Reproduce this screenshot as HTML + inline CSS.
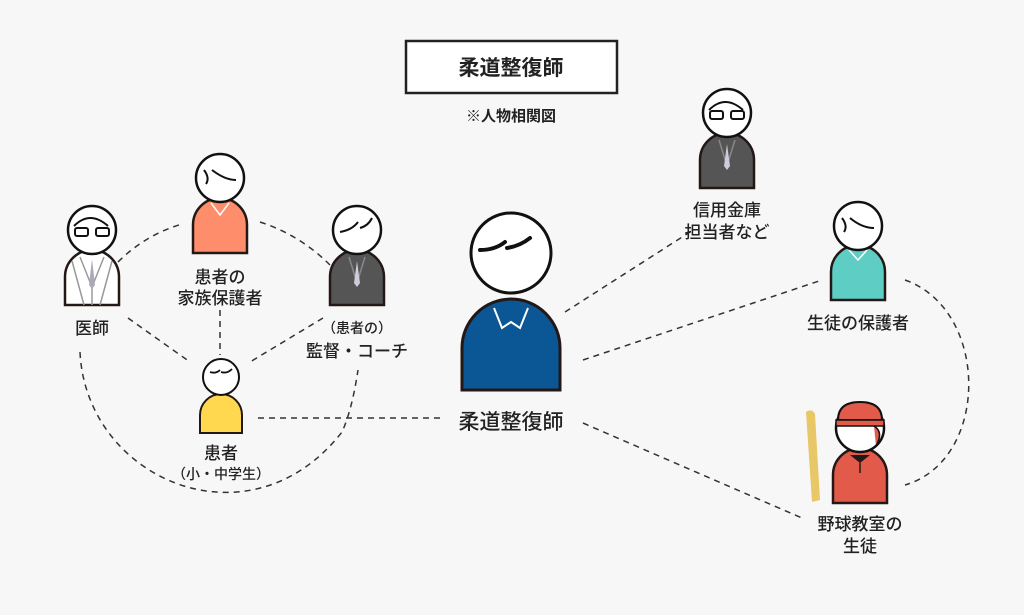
<!DOCTYPE html>
<html><head><meta charset="utf-8"><style>
html,body{margin:0;padding:0;background:#f7f7f7;}
svg{display:block}
text{font-family:"Liberation Sans","Noto Sans CJK JP",sans-serif;fill:#222;text-anchor:middle;font-weight:500}
</style></head><body>
<svg width="1024" height="615" viewBox="0 0 1024 615" xmlns="http://www.w3.org/2000/svg">
<rect width="1024" height="615" fill="#f7f7f7"/>
<defs>
<g id="p">
 <path d="M-27,48 L-27,20 A27,27 0 0 1 27,20 L27,48 Z" stroke="#231815" stroke-width="2.5"/>
</g>
</defs>
<g fill="none" stroke="#333" stroke-width="1.5" stroke-dasharray="6,5">
<path d="M118,262 Q145,235 182,224"/>
<path d="M260,222 Q300,235 330,265"/>
<path d="M128,318 L190,362"/>
<path d="M220,310 L220,355"/>
<path d="M323,318 L250,362"/>
<path d="M258,418 L440,418"/>
<path d="M80,352 C86,480 250,550 342,432 Q352,410 358,370"/>
<path d="M565,312 L690,232"/>
<path d="M583,360 L822,280"/>
<path d="M583,423 L802,518"/>
<path d="M905,280 C990,310 990,460 905,485"/>
</g>
<rect x="406" y="41" width="211" height="52" fill="#fff" stroke="#222" stroke-width="2.5"/>
<text x="511" y="75" font-size="21" style="font-weight:bold">柔道整復師</text>
<text x="511" y="121" font-size="15" style="font-weight:bold">※人物相関図</text>

<path d="M462,390 L462,348 A49,49 0 0 1 560,348 L560,390 Z" fill="#0b5694" stroke="#231815" stroke-width="3"/>
<path d="M494,308 L502,328 L511,322 L520,328 L528,308" fill="none" stroke="#fff" stroke-width="2"/>
<circle cx="511" cy="253" r="40" fill="#fff" stroke="#111" stroke-width="3"/>
<path d="M480,250 Q495,250 505,242 M507,248 Q520,246 530,238" stroke="#111" stroke-width="4" fill="none" stroke-linecap="round"/>
<text x="511" y="429" font-size="21">柔道整復師</text>

<g transform="translate(92,257)"><use href="#p" fill="#fff"/>
<path d="M-12,0 L0,30 L12,0 M-20,4 L-8,48 M20,4 L8,48 M0,18 L0,48" stroke="#999" fill="none" stroke-width="1.5"/>
<path d="M0,2 L-3,28 L0,32 L3,28 Z" fill="#aab"/></g>
<circle cx="92" cy="230" r="24" fill="#fff" stroke="#111" stroke-width="2.5"/>
<path d="M74,226 Q90,210 108,226" stroke="#111" stroke-width="2" fill="none"/>
<rect x="75" y="228" width="13" height="8" rx="2" fill="none" stroke="#111" stroke-width="2"/>
<rect x="96" y="228" width="13" height="8" rx="2" fill="none" stroke="#111" stroke-width="2"/>
<text x="92" y="334" font-size="17">医師</text>

<g transform="translate(220,205)"><use href="#p" fill="#fe8d6b"/>
<path d="M-9,-2 L0,10 L9,-2" stroke="#fff" stroke-width="1.5" fill="none"/></g>
<circle cx="220" cy="178" r="24" fill="#fff" stroke="#111" stroke-width="2.5"/>
<path d="M204,170 Q210,178 206,184 M212,170 Q225,180 236,180" stroke="#111" stroke-width="2" fill="none"/>
<text x="220" y="283" font-size="17">患者の</text>
<text x="220" y="304" font-size="17">家族保護者</text>

<g transform="translate(357,257)"><use href="#p" fill="#555"/>
<path d="M-8,0 L0,26 L8,0" stroke="#888" fill="none" stroke-width="1.5"/>
<path d="M0,4 L-3,26 L0,30 L3,26 Z" fill="#ccd"/></g>
<circle cx="357" cy="230" r="24" fill="#fff" stroke="#111" stroke-width="2.5"/>
<path d="M340,232 Q352,230 358,222 M360,228 Q368,226 372,218" stroke="#111" stroke-width="2" fill="none"/>
<text x="357" y="333" font-size="14">（患者の）</text>
<text x="357" y="357" font-size="17">監督・コーチ</text>

<path d="M200,433 L200,415 A21,21 0 0 1 242,415 L242,433 Z" fill="#ffd84f" stroke="#231815" stroke-width="2"/>
<circle cx="221" cy="377" r="18" fill="#fff" stroke="#111" stroke-width="2"/>
<path d="M210,372 Q216,374 220,370 M221,372 Q227,374 232,369" stroke="#111" stroke-width="1.8" fill="none"/>
<text x="221" y="459" font-size="17">患者</text>
<text x="221" y="479" font-size="14">（小・中学生）</text>

<g transform="translate(727,140)"><use href="#p" fill="#555"/>
<path d="M-8,0 L0,26 L8,0" stroke="#888" fill="none" stroke-width="1.5"/>
<path d="M0,4 L-3,26 L0,30 L3,26 Z" fill="#ccd"/></g>
<circle cx="727" cy="113" r="24" fill="#fff" stroke="#111" stroke-width="2.5"/>
<path d="M709,110 Q725,94 743,110" stroke="#111" stroke-width="2" fill="none"/>
<rect x="710" y="111" width="13" height="8" rx="2" fill="none" stroke="#111" stroke-width="2"/>
<rect x="731" y="111" width="13" height="8" rx="2" fill="none" stroke="#111" stroke-width="2"/>
<text x="727" y="216" font-size="17">信用金庫</text>
<text x="727" y="238" font-size="17">担当者など</text>

<g transform="translate(858,252)"><use href="#p" fill="#5ecdc4"/>
<path d="M-9,-2 L0,8 L9,-2" stroke="#fff" stroke-width="1.5" fill="none"/></g>
<circle cx="858" cy="226" r="24" fill="#fff" stroke="#111" stroke-width="2.5"/>
<path d="M842,218 Q848,226 844,232 M850,218 Q862,228 874,228" stroke="#111" stroke-width="2" fill="none"/>
<text x="858" y="329" font-size="17">生徒の保護者</text>

<path d="M806,412 Q812,408 815,414 L820,500 L812,502 Z" fill="#e8c766"/>
<g transform="translate(860,455)"><use href="#p" fill="#e25a4a"/>
<path d="M-10,0 L0,8 L10,0" fill="#231815"/><path d="M0,8 L0,18" stroke="#231815" stroke-width="1.5"/></g>
<circle cx="860" cy="428" r="24" fill="#fff" stroke="#111" stroke-width="2.5"/>
<path d="M838,420 Q838,402 860,402 Q882,402 882,420 Z" fill="#e25a4a" stroke="#111" stroke-width="2"/>
<path d="M836,420 L884,420 L884,426 L836,426 Z" fill="#e25a4a" stroke="#111" stroke-width="1.5"/>
<path d="M874,426 Q884,432 876,446" fill="#e25a4a" stroke="#111" stroke-width="1.5"/>
<text x="860" y="530" font-size="17">野球教室の</text>
<text x="860" y="552" font-size="17">生徒</text>
</svg>
</body></html>
